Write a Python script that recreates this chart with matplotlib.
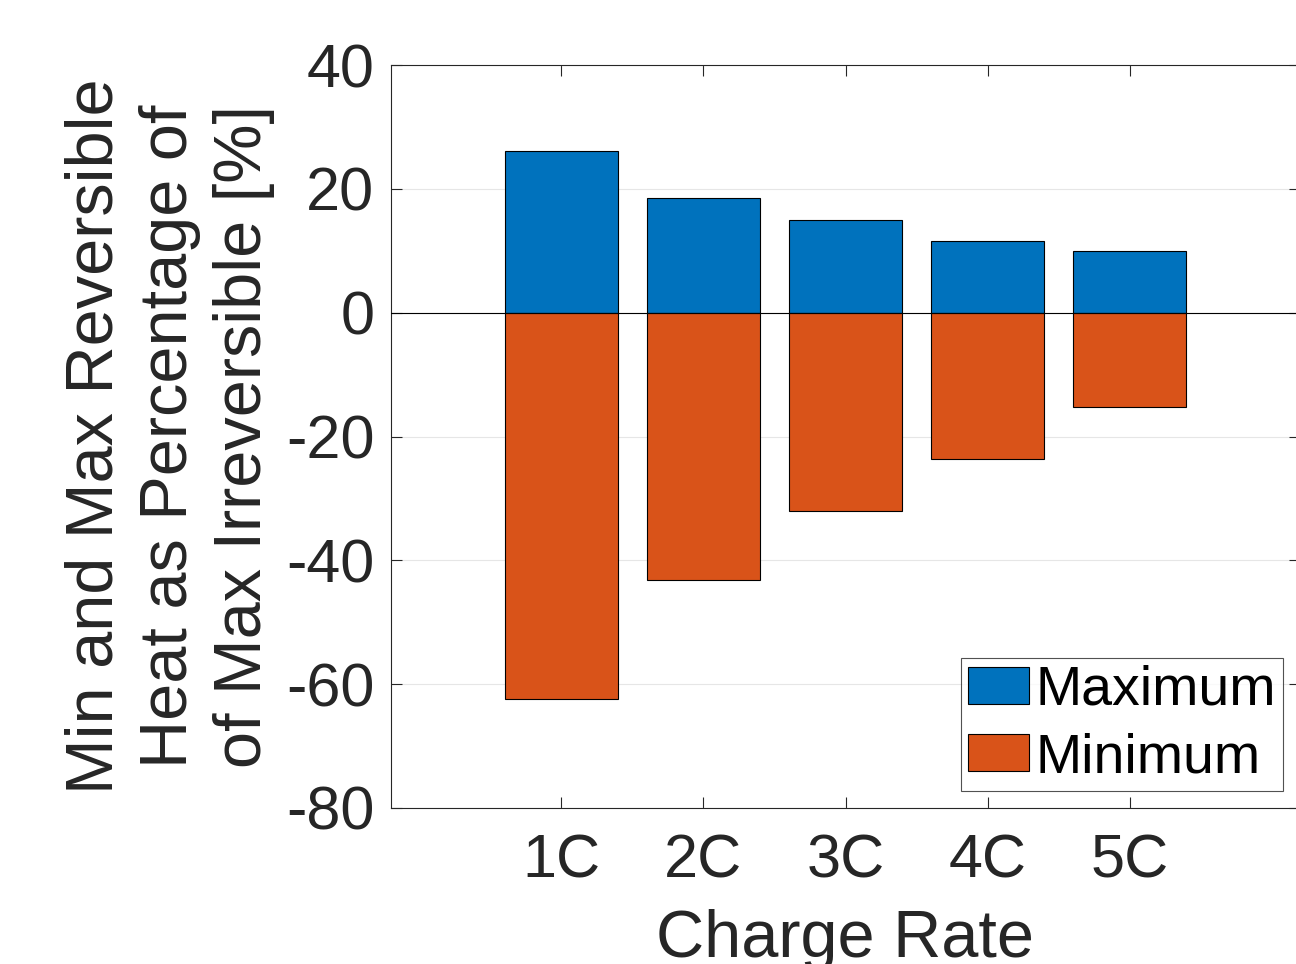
import matplotlib
matplotlib.use("Agg")
import matplotlib.pyplot as plt
import numpy as np

# Data
rates = ['1C', '2C', '3C', '4C', '5C']
max_heat = [26.1, 18.6, 14.9, 11.6, 10.0]
min_heat = [-62.4, -43.1, -32.0, -23.6, -15.2]

plt.rcParams['font.family'] = ['Liberation Sans', 'DejaVu Sans']
plt.rcParams['axes.unicode_minus'] = False
txt = '#262626'

fig = plt.figure(figsize=(12.96, 9.64), dpi=100)
ax = fig.add_axes([391 / 1296, 1 - 808 / 964, 909 / 1296, 743 / 964])

x = np.arange(1, len(rates) + 1)
ax.bar(x, max_heat, width=0.8, color='#0072BD', edgecolor='black', linewidth=0.8, label='Maximum', zorder=3)
ax.bar(x, min_heat, width=0.8, color='#D95319', edgecolor='black', linewidth=0.8, label='Minimum', zorder=3)
ax.axhline(0, color='black', linewidth=0.8, zorder=4)

ax.set_xlim(-0.2, 6.2)
ax.set_ylim(-80, 40)
ax.set_xticks(x)
ax.set_xticklabels(rates)
ax.set_yticks(np.arange(-80, 41, 20))
ax.grid(axis='y', color='#e6e6e6', linewidth=0.8, zorder=0)
ax.tick_params(direction='in', length=8, width=0.8, top=True, right=True,
               labelsize=44, colors=txt, pad=12)
ax.tick_params(axis='x', pad=18)
for s in ax.spines.values():
    s.set_color(txt)
    s.set_linewidth(0.8)

ax.set_xlabel('Charge Rate', fontsize=48, color=txt, labelpad=14)
ax.set_ylabel('Min and Max Reversible\nHeat as Percentage of\nof Max Irreversible [%]',
              fontsize=48, color=txt, linespacing=1.25, labelpad=8)

leg = ax.legend(loc='lower right', bbox_to_anchor=(1283 / 1296, 1 - 791 / 964),
                bbox_transform=fig.transFigure, fontsize=40, frameon=True, fancybox=False,
                edgecolor=txt, handlelength=1.1, handleheight=0.65, handletextpad=0.12,
                borderpad=0.12, labelspacing=0.28, borderaxespad=0)
leg.get_frame().set_linewidth(0.8)

fig.savefig('out.png', dpi=100)
